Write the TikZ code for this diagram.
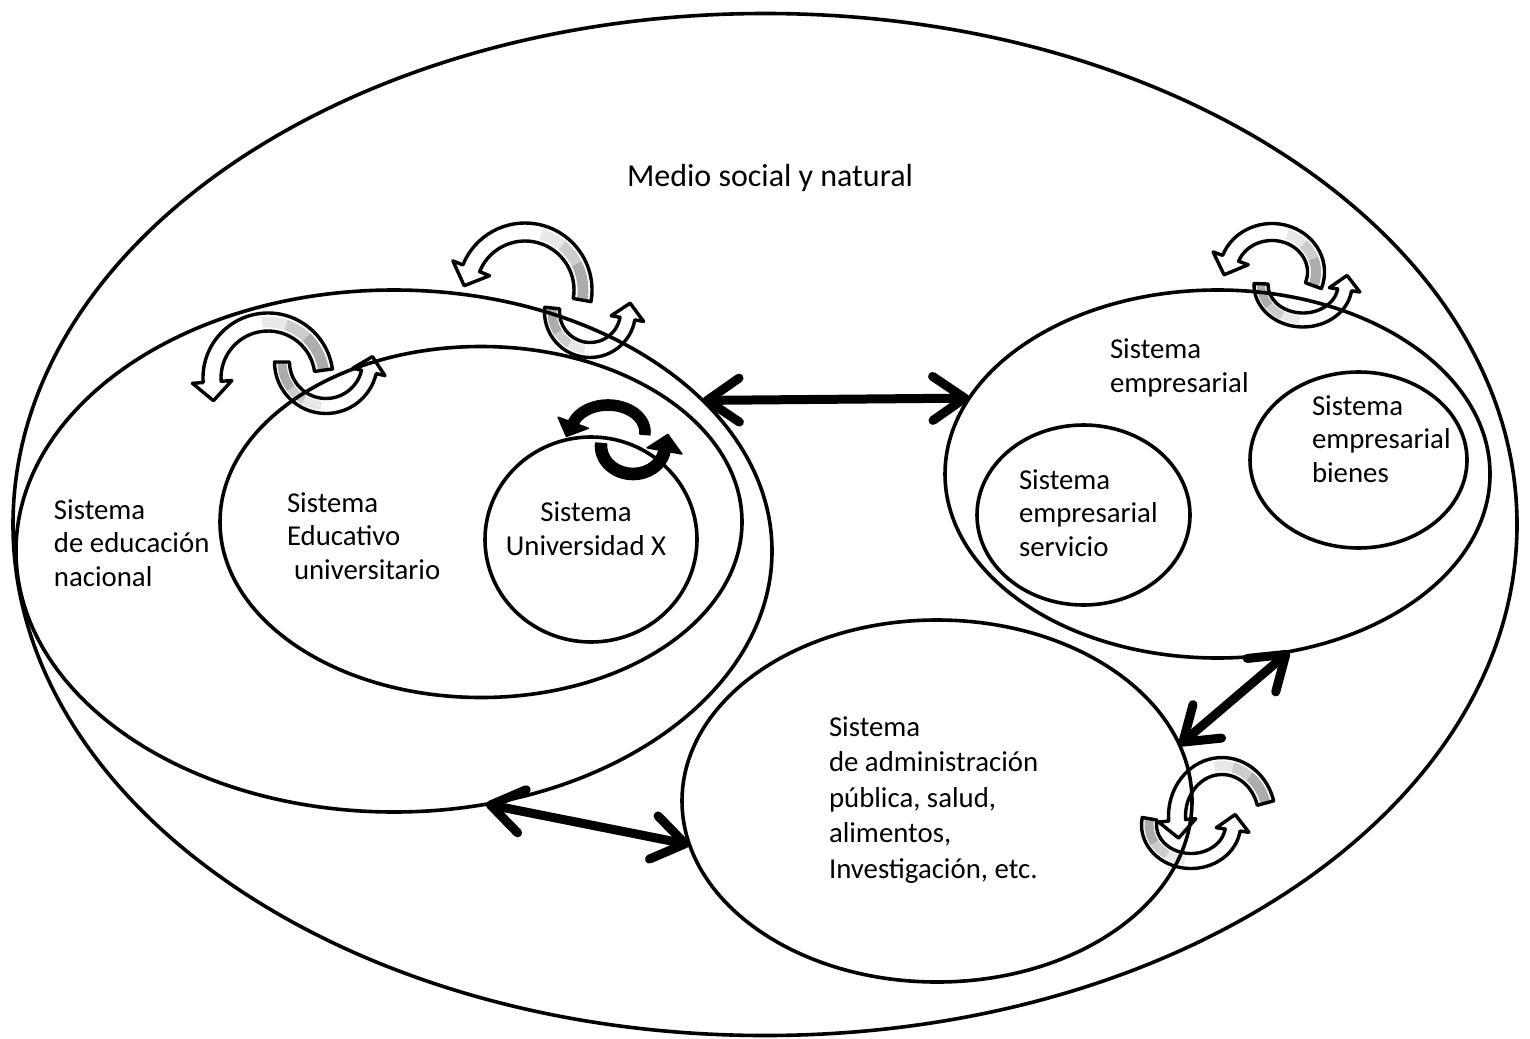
\documentclass[tikz,border=0pt]{standalone}
\usepackage{fontspec}
\setmainfont{Carlito}
\usetikzlibrary{shapes.geometric,arrows.meta}
\newcommand\arrpath[9]{%
\pgfmathsetmacro\myho{#7/2}%
\pgfmathsetmacro\myhw{#7*#8}%
\pgfmathsetmacro\myrxo{#3+\myho}%
\pgfmathsetmacro\myryo{#4+\myho}%
\pgfmathsetmacro\myrxi{#3-\myho}%
\pgfmathsetmacro\myryi{#4-\myho}%
\pgfmathsetmacro\mytx{#3*sin(#6)}%
\pgfmathsetmacro\myty{-#4*cos(#6)}%
\pgfmathsetmacro\mytl{veclen(\mytx,\myty)}%
\pgfmathsetmacro\mytipx{#1+#3*cos(#6)+\myhw*0.95*\mytx/\mytl}%
\pgfmathsetmacro\mytipy{#2+#4*sin(#6)+\myhw*0.95*\myty/\mytl}%
\path[#9] ({#1+\myrxo*cos(#5)},{#2+\myryo*sin(#5)})
  arc[start angle=#5,end angle=#6,x radius=\myrxo,y radius=\myryo]
  -- ({#1+(#3+\myhw)*cos(#6)},{#2+(#4+\myhw)*sin(#6)})
  -- (\mytipx,\mytipy)
  -- ({#1+(#3-\myhw)*cos(#6)},{#2+(#4-\myhw)*sin(#6)})
  -- ({#1+\myrxi*cos(#6)},{#2+\myryi*sin(#6)})
  arc[start angle=#6,end angle=#5,x radius=\myrxi,y radius=\myryi] -- cycle;}
\newcommand\bandseg[8]{%
\pgfmathsetmacro\mybo{#7/2}%
\pgfmathsetmacro\mybrxo{#3+\mybo}\pgfmathsetmacro\mybryo{#4+\mybo}%
\pgfmathsetmacro\mybrxi{#3-\mybo}\pgfmathsetmacro\mybryi{#4-\mybo}%
\fill[#8] ({#1+\mybrxo*cos(#5)},{#2+\mybryo*sin(#5)})
  arc[start angle=#5,end angle=#6,x radius=\mybrxo,y radius=\mybryo]
  -- ({#1+\mybrxi*cos(#6)},{#2+\mybryi*sin(#6)})
  arc[start angle=#6,end angle=#5,x radius=\mybrxi,y radius=\mybryi] -- cycle;}
\newcommand\grayarr[7]{%
\arrpath{#1}{#2}{#3}{#4}{#5}{#6}{#7}{1.1}{fill=white}%
\pgfmathsetmacro\mygA{#5+0.22*(#6-#5)}%
\pgfmathsetmacro\mygB{#5+0.36*(#6-#5)}%
\pgfmathsetmacro\mygC{#5+0.5*(#6-#5)}%
\pgfmathsetmacro\mygw{0.6*#7}%
\bandseg{#1}{#2}{#3}{#4}{#5}{\mygA}{\mygw}{gray!65}%
\bandseg{#1}{#2}{#3}{#4}{\mygA}{\mygB}{\mygw}{gray!40}%
\bandseg{#1}{#2}{#3}{#4}{\mygB}{\mygC}{\mygw}{gray!18}%
\arrpath{#1}{#2}{#3}{#4}{#5}{#6}{#7}{1.1}{draw=black,line width=1.7pt,line join=round}}
\tikzset{
  ell/.style={draw, ellipse, line width=1.8pt, inner sep=0pt, outer sep=0pt},
  txt/.style={inner sep=0pt, outer sep=0pt, align=left, anchor=base west},
  dbl/.style={line width=4.5pt, line cap=round,
    {Straight Barb[round,length=16pt,width=22pt]}-{Straight Barb[round,length=16pt,width=22pt]}},
  blk/.style={fill=black, draw=black, line width=0.8pt, line join=round}
}
\begin{document}
\begin{tikzpicture}[x=0.5pt,y=-0.5pt,font=\fontsize{14.4}{16.75}\selectfont]
\useasboundingbox[fill=white] (0,0) rectangle (1530,1038);
% cycle arrows
\grayarr{590}{312}{38}{38}{186}{10}{15}
\grayarr{525}{290}{58}{58}{10}{-158}{18}
\grayarr{326}{362}{44}{44}{180}{13}{15}
\grayarr{268}{378}{56}{56}{-8}{-184}{18}
\arrpath{633}{446}{32}{28}{185}{10}{11}{1.6}{blk}
\arrpath{608}{432}{37}{27}{5}{-160}{10}{1.6}{blk}
\grayarr{1303}{285}{42}{35}{182}{8}{14}
\grayarr{1272}{272}{44}{40}{20}{-160}{17}
\grayarr{1191}{825}{42}{36}{190}{8}{15}
\grayarr{1222}{816}{45}{50}{-15}{-185}{17}
% systems
\node[ell, minimum width=752pt, minimum height=511pt] (outer) at (765,524.5) {};
\node[ell, minimum width=378pt, minimum height=261pt] (nac) at (394,551) {};
\node[ell, minimum width=261pt, minimum height=175.5pt] (uni) at (481,522) {};
\node[ell, minimum width=106pt, minimum height=102.5pt] (unix) at (591,539.5) {};
\node[ell, minimum width=272.5pt, minimum height=184pt] (emp) at (1217.5,474) {};
\node[ell, minimum width=106.5pt, minimum height=90pt] (serv) at (1083.5,515) {};
\node[ell, minimum width=108.5pt, minimum height=88pt] (bien) at (1358.5,460) {};
\node[ell, minimum width=255pt, minimum height=181pt] (adm) at (937,801) {};
% labels (base = baseline of last line)
\node[txt, anchor=base, font=\fontsize{16}{19}\selectfont] (tmedio) at (770,186) {Medio social y natural};
\node[txt] (tnac) at (54,586) {Sistema\\de educación\\nacional};
\node[txt] (tuni) at (287,579) {Sistema\\Educativo\\\hspace*{3.5pt}universitario};
\node[txt, align=center, anchor=base] (tunix) at (586,555) {Sistema\\Universidad X};
\node[txt] (temp) at (1110,392) {Sistema\\empresarial};
\node[txt] (tbien) at (1312,482) {Sistema\\empresarial\\bienes};
\node[txt] (tserv) at (1019,556) {Sistema\\empresarial\\servicio};
\node[txt, font=\fontsize{14.4}{17.75}\selectfont] (tadm) at (829,878) {Sistema\\de administración\\pública, salud,\\alimentos,\\Investigación, etc.};
% relations
\draw[dbl] (nac.26) -- (emp.163);
\draw[dbl] (nac.-70) -- (adm.190);
\draw[dbl] (adm.13) -- (emp.-68);
\end{tikzpicture}
\end{document}
